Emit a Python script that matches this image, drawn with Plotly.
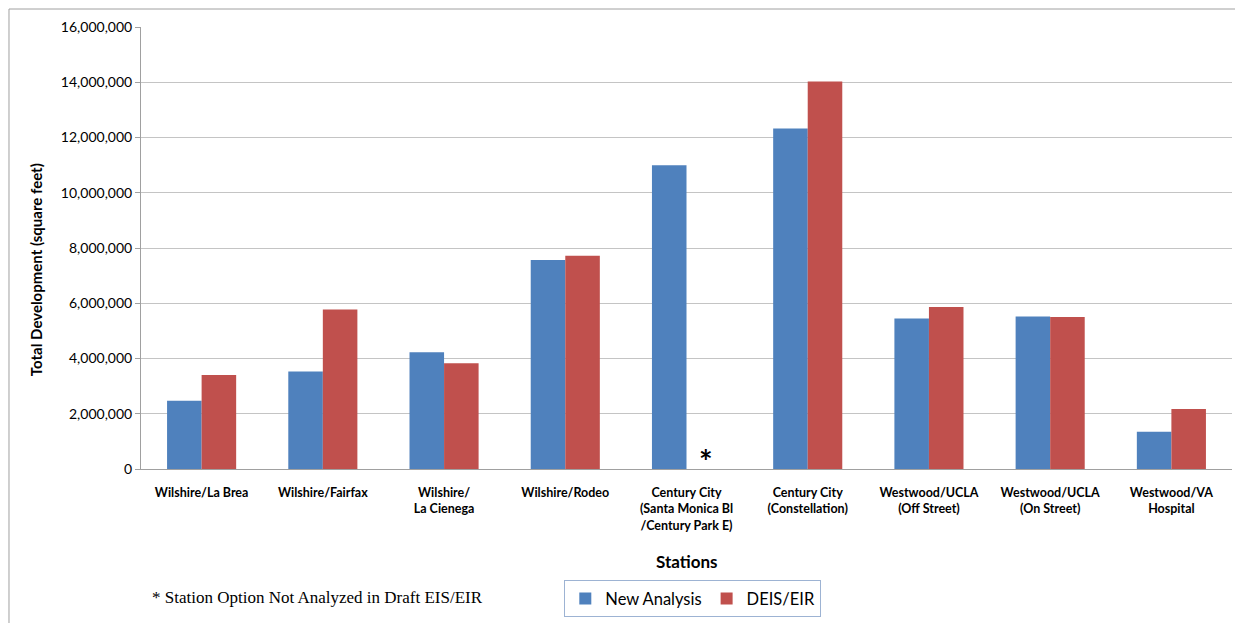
import plotly.graph_objects as go

stations = [
    "Wilshire/La Brea",
    "Wilshire/Fairfax",
    "Wilshire/<br>La Cienega",
    "Wilshire/Rodeo",
    "Century City<br>(Santa Monica Bl<br>/Century Park E)",
    "Century City<br>(Constellation)",
    "Westwood/UCLA<br>(Off Street)",
    "Westwood/UCLA<br>(On Street)",
    "Westwood/VA<br>Hospital",
]
new_analysis = [2470000, 3530000, 4230000, 7570000, 11000000, 12330000, 5450000, 5520000, 1350000]
deis_eir = [3400000, 5770000, 3830000, 7720000, None, 14030000, 5860000, 5500000, 2170000]
y_ticks = [0, 2000000, 4000000, 6000000, 8000000, 10000000, 12000000, 14000000, 16000000]

BLUE = "#4F81BD"
RED = "#C0504D"
FONT = "Lato"

fig = go.Figure()
fig.add_trace(go.Bar(x=stations, y=new_analysis, name="New Analysis",
                     marker=dict(color=BLUE, line=dict(width=0))))
fig.add_trace(go.Bar(x=stations, y=deis_eir, name="DEIS/EIR",
                     marker=dict(color=RED, line=dict(width=0))))

fig.update_layout(
    width=1235, height=623,
    margin=dict(l=141, r=3, t=27, b=154),
    paper_bgcolor="white", plot_bgcolor="white",
    barmode="group", bargap=0.43, bargroupgap=0,
    font=dict(family=FONT, color="#000000"),
    showlegend=True,
    legend=dict(orientation="h", x=0.388, y=-0.252, xanchor="left", yanchor="top",
                bordercolor="#9DB3D3", borderwidth=1, bgcolor="white",
                font=dict(size=16.5, family=FONT, color="#000000"),
                itemwidth=30, traceorder="normal"),
    xaxis=dict(showline=True, linecolor="#A0A0A0", linewidth=1, ticks="",
               tickfont=dict(size=12.5, family=FONT, color="#000000", weight="bold"),
               showgrid=False, ticklabelstandoff=12),
    yaxis=dict(range=[0, 16000000], tickvals=y_ticks, tickformat=",",
               showline=True, linecolor="#A0A0A0", linewidth=1,
               ticks="outside", ticklen=5, tickcolor="#A0A0A0",
               showgrid=True, gridcolor="#C4C4C4", gridwidth=1.3,
               tickfont=dict(size=14, family=FONT, color="#000000"),
               zeroline=False),
    shapes=[dict(type="rect", xref="paper", yref="paper",
                 x0=-0.121, x1=1.01, y0=-0.6, y1=1.0407,
                 line=dict(color="#A0A0A0", width=1), fillcolor="rgba(0,0,0,0)",
                 layer="below")],
    annotations=[
        dict(text="<b>Total Development (square feet)</b>", xref="paper", yref="paper",
             x=-0.0962, y=0.45, textangle=-90, showarrow=False,
             font=dict(size=15, family=FONT, color="#000000"), xanchor="center", yanchor="middle"),
        dict(text="<b>Stations</b>", xref="paper", yref="paper",
             x=0.5, y=-0.21, showarrow=False,
             font=dict(size=17, family=FONT, color="#000000"), xanchor="center", yanchor="middle"),
        dict(text="* Station Option Not Analyzed in Draft EIS/EIR", xref="paper", yref="paper",
             x=0.008, y=-0.29, showarrow=False, xanchor="left", yanchor="middle",
             font=dict(size=17, family="Liberation Serif", color="#000000")),
        dict(text="<b>*</b>", xref="x", yref="y", x=stations[4], y=0,
             xshift=19, yshift=8, showarrow=False, xanchor="center", yanchor="middle",
             font=dict(size=32, family=FONT, color="#000000")),
    ],
)

fig.write_html("out.html", config={"displayModeBar": False},
               post_script="document.body.style.margin='0';document.body.style.overflow='hidden';")
